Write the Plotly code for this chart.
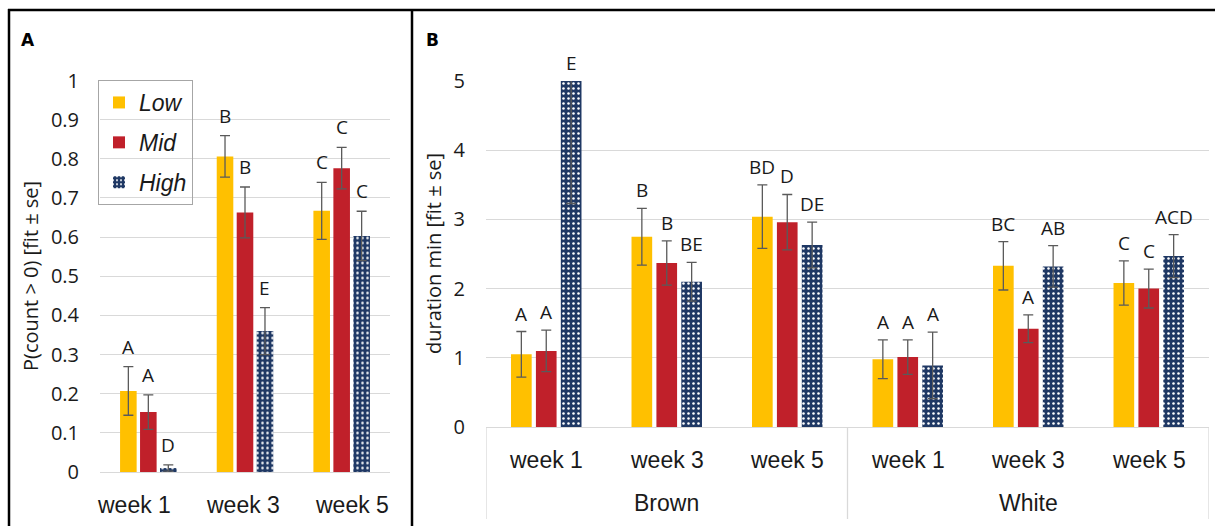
import plotly.graph_objects as go

W, H = 1215, 526

# ---------------- data ----------------
weeks = ["week 1", "week 3", "week 5"]
levels = ["Low", "Mid", "High"]
colors = {"Low": "#FFC000", "Mid": "#C0202A", "High": "#1F3864"}

# Panel A: P(count > 0)
a_low = [0.207, 0.806, 0.667]
a_mid = [0.153, 0.663, 0.776]
a_high = [0.010, 0.360, 0.603]
a_low_se = [0.062, 0.053, 0.073]
a_mid_se = [0.044, 0.065, 0.053]
a_high_se = [0.008, 0.060, 0.063]
a_low_lbl = ["A", "B", "C"]
a_mid_lbl = ["A", "B", "C"]
a_high_lbl = ["D", "E", "C"]
a_ticks = [0, 0.1, 0.2, 0.3, 0.4, 0.5, 0.6, 0.7, 0.8, 0.9, 1]
a_ticktext = ["0", "0.1", "0.2", "0.3", "0.4", "0.5", "0.6", "0.7", "0.8", "0.9", "1"]

# Panel B: duration min
b_groups = ["Brown", "White"]
b_weeks = ["week 1", "week 3", "week 5", "week 1", "week 3", "week 5"]
b_low = [1.05, 2.75, 3.04, 0.98, 2.33, 2.08]
b_mid = [1.10, 2.37, 2.96, 1.01, 1.42, 2.00]
b_high = [5.00, 2.10, 2.63, 0.89, 2.32, 2.47]
b_low_se = [0.33, 0.41, 0.46, 0.28, 0.35, 0.32]
b_mid_se = [0.30, 0.32, 0.40, 0.25, 0.20, 0.28]
b_high_se = [1.77, 0.28, 0.33, 0.48, 0.30, 0.31]
b_low_lbl = ["A", "B", "BD", "A", "BC", "C"]
b_mid_lbl = ["A", "B", "D", "A", "A", "C"]
b_high_lbl = ["E", "BE", "DE", "A", "AB", "ACD"]
b_ticks = [0, 1, 2, 3, 4, 5]

# ---------------- helpers ----------------
def px(x):
    return x / W

def py(y):
    return 1 - y / H

BARGAP = 0.38
GROUPGAP = 0.17
TXT = "#1a1a1a"
GRID = "#d9d9d9"
ERR = "#5a5a5a"

fig = go.Figure()

a_series = {"Low": (a_low, a_low_se, a_low_lbl),
            "Mid": (a_mid, a_mid_se, a_mid_lbl),
            "High": (a_high, a_high_se, a_high_lbl)}
b_series = {"Low": (b_low, b_low_se, b_low_lbl),
            "Mid": (b_mid, b_mid_se, b_mid_lbl),
            "High": (b_high, b_high_se, b_high_lbl)}


def marker_for(lv):
    if lv == "High":
        return dict(color=colors[lv],
                    pattern=dict(shape=".", fgcolor="white", bgcolor=colors[lv],
                                 size=5, solidity=0.2, fillmode="replace"),
                    line=dict(width=0))
    return dict(color=colors[lv], line=dict(width=0))


for lv in levels:
    v, e, _ = a_series[lv]
    fig.add_trace(go.Bar(
        x=list(range(len(weeks))), y=v, name=lv, legendgroup=lv,
        marker=marker_for(lv),
        error_y=dict(type="data", array=e, color=ERR, thickness=1.3, width=5),
        xaxis="x", yaxis="y", showlegend=True))

for lv in levels:
    v, e, _ = b_series[lv]
    fig.add_trace(go.Bar(
        x=list(range(len(b_weeks))), y=v, name=lv, legendgroup=lv,
        marker=marker_for(lv),
        error_y=dict(type="data", array=e, color=ERR, thickness=1.3, width=5),
        xaxis="x2", yaxis="y2", showlegend=False))

annotations = []
slot = (1 - BARGAP) / 3
LBL_FONT = dict(family="Open Sans", size=19, color=TXT)

for k, lv in enumerate(levels):
    v, e, lab = a_series[lv]
    for i in range(len(weeks)):
        annotations.append(dict(x=i + (k - 1) * slot, y=min(v[i] + e[i], 1), xref="x", yref="y",
                                text=lab[i], showarrow=False, xanchor="center",
                                yanchor="bottom", yshift=5, font=LBL_FONT))
    v, e, lab = b_series[lv]
    for i in range(len(b_weeks)):
        annotations.append(dict(x=i + (k - 1) * slot, y=min(v[i] + e[i], 5), xref="x2", yref="y2",
                                text=lab[i], showarrow=False, xanchor="center",
                                yanchor="bottom", yshift=3, font=LBL_FONT))

WEEK_FONT = dict(family="Liberation Sans", size=23, color=TXT)
a_shift = [-14, -2, 10]
for i, wk in enumerate(weeks):
    annotations.append(dict(x=i, y=py(505), xref="x", yref="paper", text=wk, showarrow=False,
                            xshift=a_shift[i], xanchor="center", yanchor="middle", font=WEEK_FONT))
for i, wk in enumerate(b_weeks):
    annotations.append(dict(x=i, y=py(460), xref="x2", yref="paper", text=wk, showarrow=False,
                            xanchor="center", yanchor="middle", font=WEEK_FONT))
for g, grp in enumerate(b_groups):
    annotations.append(dict(x=1 + 3 * g, y=py(503), xref="x2", yref="paper", text=grp,
                            showarrow=False, xanchor="center", yanchor="middle", font=WEEK_FONT))

# axis titles
annotations.append(dict(x=px(30), y=py(276), xref="paper", yref="paper",
                        text="P(count > 0) [fit ± se]", textangle=-90, showarrow=False,
                        xanchor="center", yanchor="middle",
                        font=dict(family="Open Sans", size=20, color=TXT)))
annotations.append(dict(x=px(433), y=py(254), xref="paper", yref="paper",
                        text="duration min [fit ± se]", textangle=-90, showarrow=False,
                        xanchor="center", yanchor="middle",
                        font=dict(family="Open Sans", size=20, color=TXT)))
# panel letters
annotations.append(dict(x=px(28), y=py(40), xref="paper", yref="paper", text="<b>A</b>",
                        showarrow=False, xanchor="center", yanchor="middle",
                        font=dict(family="DejaVu Sans", size=17, color="black")))
annotations.append(dict(x=px(432), y=py(40), xref="paper", yref="paper", text="<b>B</b>",
                        showarrow=False, xanchor="center", yanchor="middle",
                        font=dict(family="DejaVu Sans", size=17, color="black")))

shapes = [
    dict(type="line", xref="paper", yref="paper", x0=px(9), x1=px(9), y0=py(9), y1=0,
         line=dict(color="black", width=2.5)),
    dict(type="line", xref="paper", yref="paper", x0=px(8), x1=1, y0=py(10), y1=py(10),
         line=dict(color="black", width=2.5)),
    dict(type="line", xref="paper", yref="paper", x0=px(412), x1=px(412), y0=py(9), y1=0,
         line=dict(color="black", width=2.5)),
]
for xv in [-0.5, 2.5, 5.5]:
    shapes.append(dict(type="line", xref="x2", yref="paper", x0=xv, x1=xv,
                       y0=py(427), y1=py(519), line=dict(color=GRID, width=1.3)))

TICK_FONT = dict(family="Open Sans", size=20, color=TXT)

fig.update_layout(
    width=W, height=H, margin=dict(l=0, r=0, t=0, b=0, pad=0, autoexpand=False),
    paper_bgcolor="white", plot_bgcolor="white",
    barmode="group", bargap=BARGAP, bargroupgap=GROUPGAP,
    xaxis=dict(domain=[px(100), px(390)], range=[-0.5, 2.5], showticklabels=False,
               showgrid=False, zeroline=False, showline=True, linecolor=GRID, linewidth=1.3,
               anchor="y", automargin=False),
    yaxis=dict(domain=[py(472), py(80.5)], range=[0, 1], tickvals=a_ticks, ticktext=a_ticktext,
               showgrid=True, gridcolor=GRID, gridwidth=1.3, zeroline=False, showline=False,
               tickfont=TICK_FONT, ticklabelstandoff=20, anchor="x", automargin=False),
    xaxis2=dict(domain=[px(486), px(1209)], range=[-0.5, 5.5], showticklabels=False,
                showgrid=False, zeroline=False, showline=True, linecolor=GRID, linewidth=1.3,
                anchor="y2", automargin=False),
    yaxis2=dict(domain=[py(427), py(81)], range=[0, 5], tickvals=b_ticks,
                showgrid=True, gridcolor=GRID, gridwidth=1.3, zeroline=False, showline=False,
                tickfont=TICK_FONT, ticklabelstandoff=20, anchor="x2", automargin=False),
    legend=dict(x=px(98), y=py(80), xanchor="left", yanchor="top",
                bgcolor="rgba(0,0,0,0)", bordercolor="#a6a6a6", borderwidth=1,
                font=dict(family="Liberation Sans", size=23, color=TXT, style="italic"),
                tracegroupgap=7, traceorder="grouped"),
    annotations=annotations, shapes=shapes,
)

fig.write_html("out.html")
